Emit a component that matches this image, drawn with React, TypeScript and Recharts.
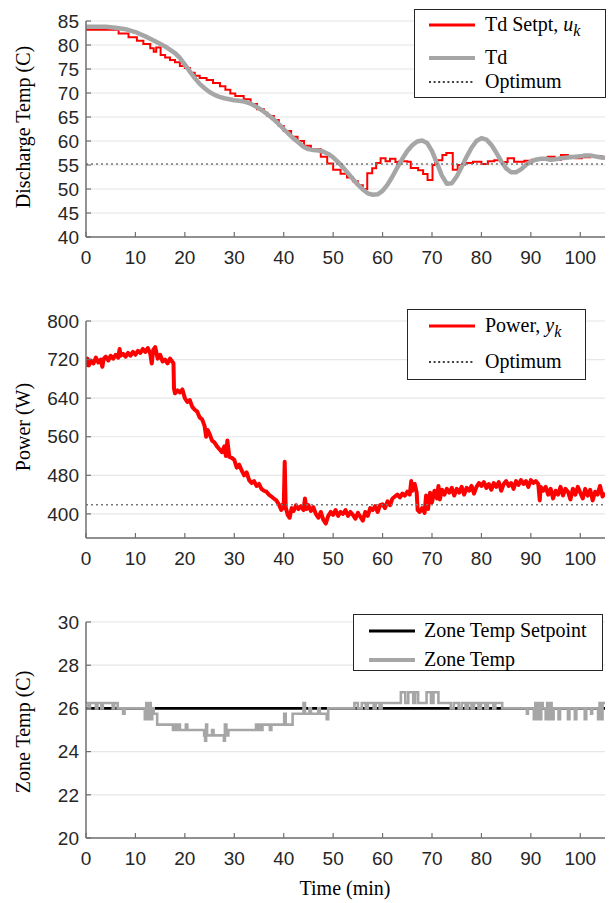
import React from "react";
import {
  LineChart,
  Line,
  XAxis,
  YAxis,
  CartesianGrid,
  ReferenceLine,
} from "recharts";

// ---- data: [time (min), value] ----
const timeTicks = [0, 10, 20, 30, 40, 50, 60, 70, 80, 90, 100];
const tempTicks = [40, 45, 50, 55, 60, 65, 70, 75, 80, 85];
const powerTicks = [400, 480, 560, 640, 720, 800];
const zoneTicks = [20, 22, 24, 26, 28, 30];

const TD_OPTIMUM = 55.2;
const POWER_OPTIMUM = 419;

const tdSetpt: [number, number][] = [
  [0, 83.2], [6.6, 82.4], [8.6, 81.6], [10.3, 80.9], [11.6, 80.2], [13.0, 79.3], [13.7, 78.6],
  [14.2, 79.5], [15.1, 77.9], [16.0, 77.4], [17.0, 76.9], [18.0, 76.4], [19.0, 75.6], [20.0, 75.2],
  [21.0, 74.2], [22.0, 73.6], [23.0, 73.1], [24.4, 72.7], [25.7, 72.1], [27.1, 71.4], [28.2, 70.7],
  [29.2, 69.9], [30.2, 69.4], [31.9, 68.7], [33.3, 67.7], [34.6, 66.6], [36.0, 65.9], [36.7, 65.2],
  [38.0, 64.4], [39.0, 63.1], [40.0, 62.1], [41.5, 60.9], [42.8, 60.0], [44.1, 59.0], [45.5, 58.3],
  [47.5, 56.7], [48.8, 55.3], [50.0, 54.0], [51.5, 53.2], [52.8, 52.4], [54.0, 51.6], [55.0, 50.8],
  [56.0, 50.0], [56.9, 53.3], [57.9, 54.3], [58.7, 55.4], [59.6, 56.4], [60.6, 55.8], [61.5, 56.3],
  [62.6, 55.6], [63.4, 55.8], [65.0, 55.7], [65.7, 54.4], [67.2, 53.9], [68.2, 53.1], [69.1, 51.9],
  [70.1, 55.0], [70.6, 56.0], [72.1, 57.1], [72.9, 57.5], [74.2, 54.0], [75.2, 55.0], [76.6, 55.4],
  [78.3, 55.7], [80.0, 55.2], [81.3, 55.8], [82.6, 56.0], [84.0, 55.6], [85.3, 56.4], [86.6, 55.7],
  [88.7, 55.9], [90.2, 56.1], [91.6, 56.3], [93.4, 56.7], [94.8, 56.1], [96.1, 57.1], [97.5, 56.7],
  [99.0, 56.4], [100.3, 56.6], [102.0, 56.9], [104.3, 56.4], [105, 56.4],
];

const tdMeasured: [number, number][] = [
  [0, 83.8], [2, 83.8], [4, 83.8], [6, 83.6], [8, 83.3], [10, 82.7], [12, 81.8], [14, 80.8],
  [16, 79.7], [18, 78.3], [19, 77.3], [20, 75.9], [21, 74.5], [22, 73.1], [23, 71.9], [24, 71.0],
  [25, 70.2], [26, 69.6], [27, 69.2], [28, 68.9], [29, 68.7], [30, 68.5], [31, 68.4], [32, 68.2],
  [33, 67.9], [34, 67.4], [35, 66.8], [36, 66.1], [37, 65.3], [38, 64.5], [39, 63.5], [40, 62.5],
  [41, 61.5], [42, 60.5], [43, 59.7], [44, 58.8], [45, 58.3], [46, 58.1], [47, 58.0], [48, 57.8],
  [49, 57.3], [50, 56.6], [51, 55.6], [52, 54.5], [53, 53.3], [54, 52.1], [55, 50.9], [56, 49.9],
  [57, 49.1], [58, 48.8], [59, 48.9], [60, 49.6], [61, 50.9], [62, 52.6], [63, 54.5], [64, 56.3],
  [65, 57.9], [66, 59.1], [67, 59.9], [68, 60.1], [69, 59.6], [70, 57.9], [71, 55.4], [72, 52.8],
  [73, 51.1], [74, 51.2], [75, 52.6], [76, 54.6], [77, 56.7], [78, 58.6], [79, 60.0], [80, 60.6],
  [81, 60.3], [82, 59.2], [83, 57.6], [84, 55.8], [85, 54.3], [86, 53.5], [87, 53.5], [88, 54.1],
  [89, 55.0], [90, 55.7], [91, 56.1], [92, 56.3], [93, 56.3], [94, 56.1], [95, 56.2], [96, 56.4],
  [97, 56.5], [98, 56.6], [99, 56.7], [100, 56.8], [101, 57.0], [102, 57.0], [103, 56.8],
  [104, 56.6], [105, 56.5],
];

const power: [number, number][] = [
  [0, 705], [0.3, 722], [0.6, 708], [1, 718], [1.5, 712], [2, 724], [2.5, 714], [3, 720], [3.3, 705],
  [3.6, 722], [4, 726], [4.5, 718], [5, 728], [5.5, 722], [6, 730], [6.5, 724], [6.8, 742], [7, 728],
  [7.5, 732], [8, 726], [8.5, 734], [9, 728], [9.5, 736], [10, 730], [10.5, 738], [11, 734],
  [11.5, 742], [12, 736], [12.5, 744], [13, 732], [13.3, 712], [13.6, 740], [14, 746], [14.5, 722],
  [15, 730], [15.5, 716], [16, 720], [16.5, 712], [17, 722], [17.5, 715], [17.7, 712], [17.8, 660],
  [18, 650], [18.5, 656], [19, 652], [19.5, 658], [20, 640], [20.5, 632], [21, 636], [21.5, 622],
  [22, 616], [22.5, 612], [23, 600], [23.5, 596], [24, 582], [24.3, 560], [24.6, 574], [25, 566],
  [25.5, 552], [26, 548], [26.5, 540], [27, 534], [27.5, 528], [28, 540], [28.3, 520], [28.6, 552],
  [29, 518], [29.5, 516], [30, 512], [30.5, 496], [31, 502], [31.5, 490], [32, 480], [32.5, 486],
  [33, 470], [33.5, 464], [34, 468], [34.5, 458], [35, 462], [35.5, 452], [36, 448], [36.5, 446],
  [37, 440], [37.5, 436], [38, 432], [38.5, 428], [39, 420], [39.5, 408], [39.8, 420], [40, 412],
  [40.2, 508], [40.4, 414], [40.8, 398], [41.2, 392], [41.6, 412], [42, 406], [42.5, 418], [43, 410],
  [43.5, 416], [44, 408], [44.3, 432], [44.6, 410], [45, 418], [45.5, 406], [46, 414], [46.5, 400],
  [47, 392], [47.5, 404], [48, 388], [48.5, 380], [49, 396], [49.5, 404], [50, 398], [50.5, 408],
  [51, 396], [51.5, 404], [52, 400], [52.5, 408], [53, 396], [53.5, 404], [54, 398], [54.5, 390],
  [55, 402], [55.5, 394], [56, 386], [56.5, 404], [57, 396], [57.5, 412], [58, 408], [58.5, 416],
  [59, 404], [59.5, 418], [60, 420], [60.5, 412], [61, 426], [61.5, 418], [62, 432], [62.5, 436],
  [63, 440], [63.5, 434], [64, 442], [64.5, 438], [65, 446], [65.5, 440], [65.8, 468], [66, 448],
  [66.5, 462], [66.9, 444], [67.1, 408], [67.5, 404], [68, 412], [68.5, 402], [68.8, 438],
  [69.2, 410], [69.6, 444], [70, 424], [70.5, 448], [71, 432], [71.3, 458], [71.6, 430], [72, 450],
  [72.5, 440], [73, 452], [73.5, 444], [74, 454], [74.5, 438], [75, 452], [75.5, 444], [76, 456],
  [76.5, 440], [77, 454], [77.5, 448], [78, 458], [78.5, 442], [79, 456], [79.5, 464], [80, 458],
  [80.5, 466], [81, 454], [81.5, 462], [82, 450], [82.5, 464], [83, 456], [83.5, 466], [84, 448],
  [84.5, 462], [85, 468], [85.5, 458], [86, 464], [86.5, 452], [87, 468], [87.5, 460], [88, 470],
  [88.5, 462], [89, 468], [89.5, 456], [90, 470], [90.5, 464], [91, 468], [91.5, 462], [91.8, 428],
  [92, 456], [92.5, 448], [93, 456], [93.5, 440], [94, 452], [94.5, 432], [95, 448], [95.5, 440],
  [96, 456], [96.5, 438], [97, 452], [97.5, 446], [98, 430], [98.5, 452], [99, 440], [99.5, 456],
  [100, 444], [100.5, 432], [101, 452], [101.5, 438], [102, 450], [102.5, 428], [103, 446],
  [103.5, 440], [104, 458], [104.5, 436], [105, 444],
];

const zoneSetpoint: [number, number][] = [
  [0, 26], [105, 26],
];

const zoneTemp: [number, number][] = [
  [0, 26.25], [0.5, 26], [0.8, 26.25], [2.0, 26], [2.3, 26.25], [3.1, 26], [3.4, 26.25], [5.4, 26],
  [5.7, 26.25], [6.4, 26], [7.5, 25.75], [7.8, 26],
  [11.9, 25.5], [12.2, 26.25], [12.5, 25.5], [12.8, 26.25], [13.1, 25.5], [13.4, 26], [13.7, 25.75],
  [14.4, 25.25], [17.6, 25], [18.0, 25.25], [18.3, 25], [18.7, 25.25], [19.0, 25], [20.2, 25.25],
  [20.5, 25], [23.9, 24.75], [24.1, 24.5], [24.3, 25.25], [24.5, 24.75], [25.5, 25], [25.8, 24.75],
  [27.9, 24.5], [28.1, 25.25], [28.4, 24.75], [28.8, 25],
  [34.4, 25.25], [34.7, 25], [35.0, 25.25], [35.4, 25], [35.7, 25.25], [37.2, 25], [37.5, 25.25],
  [40.1, 25.75], [40.4, 25.25], [41.8, 25.75], [44.0, 26.25], [44.3, 25.75], [45.2, 26], [45.5, 25.75],
  [47.0, 26], [47.3, 25.75], [48.7, 25.5], [49.0, 26],
  [54.3, 26.25], [55.0, 26], [55.8, 26.25], [56.6, 26], [57.0, 26.25], [58.2, 26], [58.6, 26.25],
  [59.4, 26], [59.8, 26.25],
  [63.7, 26.75], [64.6, 26.25], [65.2, 26.75], [66.2, 26.25], [66.6, 26.75], [67.2, 26.25],
  [68.9, 26.75], [69.8, 26.25], [70.3, 26.75], [71.3, 26.25],
  [73.8, 26], [74.4, 26.25], [75.4, 26], [76.0, 26.25], [76.8, 26], [77.3, 26.25], [78.0, 26],
  [78.5, 26.25], [79.4, 26], [79.9, 26.25], [80.8, 26], [81.3, 26.25], [82.4, 26], [82.8, 26.25],
  [84.2, 26],
  [89.2, 25.75], [89.4, 26], [90.6, 25.5], [90.9, 26.25], [91.2, 25.5], [91.5, 26.25], [91.8, 25.5],
  [92.1, 26.25], [92.4, 26], [93.0, 25.5], [93.3, 26.25], [93.6, 25.5], [93.9, 26.25], [94.2, 25.5],
  [94.6, 26], [95.6, 25.5], [95.9, 26], [97.5, 25.5], [97.8, 26], [98.9, 25.5], [99.2, 26],
  [100.9, 25.5], [101.2, 26], [102.2, 25.75], [102.4, 26], [103.6, 25.5], [103.9, 26.25],
  [104.2, 25.5], [104.5, 26.25], [105, 26.25],
];

const toPts = (rows: [number, number][]) => rows.map(([t, v]) => ({ t, v }));

// ---- styling ----
const SANS = "'Liberation Sans', Arial, Helvetica, sans-serif";
const SERIF = "'Liberation Serif', 'Times New Roman', Times, serif";
const AXIS_COLOR = "#6f6f6f";
const TEXT_COLOR = "#262626";
const GRID_COLOR = "#e6e6e6";
const RED = "#ff0000";
const GRAY = "#a6a6a6";

const CHART_W = 610;
const CHART_H = 271;
const MARGIN = { top: 21, right: 5, bottom: 3, left: 26 };

const tickStyle = { fill: TEXT_COLOR, fontSize: 19, fontFamily: SANS };

function xAxis() {
  return (
    <XAxis
      type="number"
      dataKey="t"
      domain={[0, 105]}
      ticks={timeTicks}
      interval={0}
      allowDataOverflow
      height={30}
      tick={tickStyle}
      tickSize={-5}
      tickMargin={19}
      axisLine={{ stroke: AXIS_COLOR, strokeWidth: 1.5 }}
      tickLine={{ stroke: AXIS_COLOR, strokeWidth: 1.2 }}
    />
  );
}

function yAxis(domain: [number, number], ticks: number[]) {
  return (
    <YAxis
      type="number"
      dataKey="v"
      domain={domain}
      ticks={ticks}
      interval={0}
      allowDataOverflow
      width={60}
      tick={tickStyle}
      tickSize={-5}
      tickMargin={12}
      axisLine={{ stroke: AXIS_COLOR, strokeWidth: 1.5 }}
      tickLine={{ stroke: AXIS_COLOR, strokeWidth: 1.2 }}
    />
  );
}

function YTitle({ text, top }: { text: string; top: number }) {
  return (
    <div
      style={{
        position: "absolute",
        left: 23,
        top,
        transform: "translate(-50%, -50%) rotate(-90deg)",
        whiteSpace: "nowrap",
        fontFamily: SERIF,
        fontSize: 20,
        color: "#000",
      }}
    >
      {text}
    </div>
  );
}

type Sample = "red" | "gray" | "dotted" | "black";

function SampleLine({ kind, width }: { kind: Sample; width: number }) {
  const props =
    kind === "red"
      ? { stroke: RED, strokeWidth: 3 }
      : kind === "gray"
      ? { stroke: GRAY, strokeWidth: 4 }
      : kind === "black"
      ? { stroke: "#000", strokeWidth: 3 }
      : { stroke: "#000", strokeWidth: 1.3, strokeDasharray: "2 2.6" };
  return (
    <svg width={width} height={8} style={{ display: "block" }}>
      <line x1={0} y1={4} x2={width} y2={4} {...props} />
    </svg>
  );
}

function LegendBox({
  left,
  top,
  width,
  height,
  sampleX,
  sampleW,
  textX,
  rows,
}: {
  left: number;
  top: number;
  width: number;
  height: number;
  sampleX: number;
  sampleW: number;
  textX: number;
  rows: { kind: Sample; y: number; label: React.ReactNode }[];
}) {
  return (
    <div
      style={{
        position: "absolute",
        left,
        top,
        width,
        height,
        boxSizing: "border-box",
        border: "1.3px solid #262626",
        background: "#fff",
        fontFamily: SERIF,
        fontSize: 20,
        color: "#000",
      }}
    >
      {rows.map((r, i) => (
        <React.Fragment key={i}>
          <div style={{ position: "absolute", left: sampleX, top: r.y - 4 }}>
            <SampleLine kind={r.kind} width={sampleW} />
          </div>
          <div
            style={{
              position: "absolute",
              left: textX,
              top: r.y - 13,
              lineHeight: "24px",
              whiteSpace: "nowrap",
            }}
          >
            {r.label}
          </div>
        </React.Fragment>
      ))}
    </div>
  );
}

const sub = (s: string) => (
  <sub style={{ fontSize: 16, fontStyle: "italic", verticalAlign: "-5px", lineHeight: 0 }}>{s}</sub>
);

export default function App() {
  return (
    <div
      style={{
        position: "absolute",
        left: 0,
        top: 0,
        width: 610,
        height: 903,
        background: "#fff",
        overflow: "hidden",
      }}
    >
      {/* discharge temperature */}
      <div style={{ position: "absolute", left: 0, top: 0 }}>
        <LineChart width={CHART_W} height={CHART_H - 1} margin={MARGIN}>
          <CartesianGrid vertical={false} stroke={GRID_COLOR} strokeWidth={1.2} />
          {xAxis()}
          {yAxis([40, 85], tempTicks)}
          <Line
            data={toPts(tdSetpt)}
            dataKey="v"
            type="stepAfter"
            stroke={RED}
            strokeWidth={2}
            dot={false}
            isAnimationActive={false}
          />
          <Line
            data={toPts(tdMeasured)}
            dataKey="v"
            type="linear"
            stroke={GRAY}
            strokeWidth={4.5}
            strokeLinejoin="round"
            dot={false}
            isAnimationActive={false}
          />
          <ReferenceLine y={TD_OPTIMUM} stroke="#777" strokeWidth={1.5} strokeDasharray="2 3" />
        </LineChart>
      </div>
      <YTitle text="Discharge Temp (C)" top={127} />
      <LegendBox
        left={414}
        top={9}
        width={192}
        height={89}
        sampleX={14}
        sampleW={46}
        textX={70}
        rows={[
          { kind: "red", y: 15, label: <>Td Setpt, <i>u</i>{sub("k")}</> },
          { kind: "gray", y: 48, label: "Td" },
          { kind: "dotted", y: 72, label: "Optimum" },
        ]}
      />

      {/* power */}
      <div style={{ position: "absolute", left: 0, top: 300 }}>
        <LineChart width={CHART_W} height={CHART_H} margin={MARGIN}>
          <CartesianGrid vertical={false} stroke={GRID_COLOR} strokeWidth={1.2} />
          {xAxis()}
          {yAxis([350, 800], powerTicks)}
          <Line
            data={toPts(power)}
            dataKey="v"
            type="linear"
            stroke={RED}
            strokeWidth={4}
            strokeLinejoin="round"
            dot={false}
            isAnimationActive={false}
          />
          <ReferenceLine y={POWER_OPTIMUM} stroke="#777" strokeWidth={1.5} strokeDasharray="2 3" />
        </LineChart>
      </div>
      <YTitle text="Power (W)" top={427} />
      <LegendBox
        left={407}
        top={309}
        width={179}
        height={71}
        sampleX={21}
        sampleW={46}
        textX={77}
        rows={[
          { kind: "red", y: 16, label: <>Power, <i>y</i>{sub("k")}</> },
          { kind: "dotted", y: 52, label: "Optimum" },
        ]}
      />

      {/* zone temperature */}
      <div style={{ position: "absolute", left: 0, top: 601 }}>
        <LineChart width={CHART_W} height={CHART_H - 1} margin={MARGIN}>
          <CartesianGrid vertical={false} stroke={GRID_COLOR} strokeWidth={1.2} />
          {xAxis()}
          {yAxis([20, 30], zoneTicks)}
          <Line
            data={toPts(zoneSetpoint)}
            dataKey="v"
            type="linear"
            stroke="#000"
            strokeWidth={2.6}
            dot={false}
            isAnimationActive={false}
          />
          <Line
            data={toPts(zoneTemp)}
            dataKey="v"
            type="stepAfter"
            stroke={GRAY}
            strokeWidth={2.6}
            dot={false}
            isAnimationActive={false}
          />
        </LineChart>
      </div>
      <YTitle text="Zone Temp (C)" top={732} />
      <LegendBox
        left={353}
        top={614}
        width={250}
        height={57}
        sampleX={15}
        sampleW={46}
        textX={70}
        rows={[
          { kind: "black", y: 16, label: "Zone Temp Setpoint" },
          { kind: "gray", y: 45, label: "Zone Temp" },
        ]}
      />

      <div
        style={{
          position: "absolute",
          left: 345,
          top: 888,
          transform: "translate(-50%, -50%)",
          fontFamily: SERIF,
          fontSize: 20,
          whiteSpace: "nowrap",
          color: "#000",
        }}
      >
        Time (min)
      </div>
    </div>
  );
}
